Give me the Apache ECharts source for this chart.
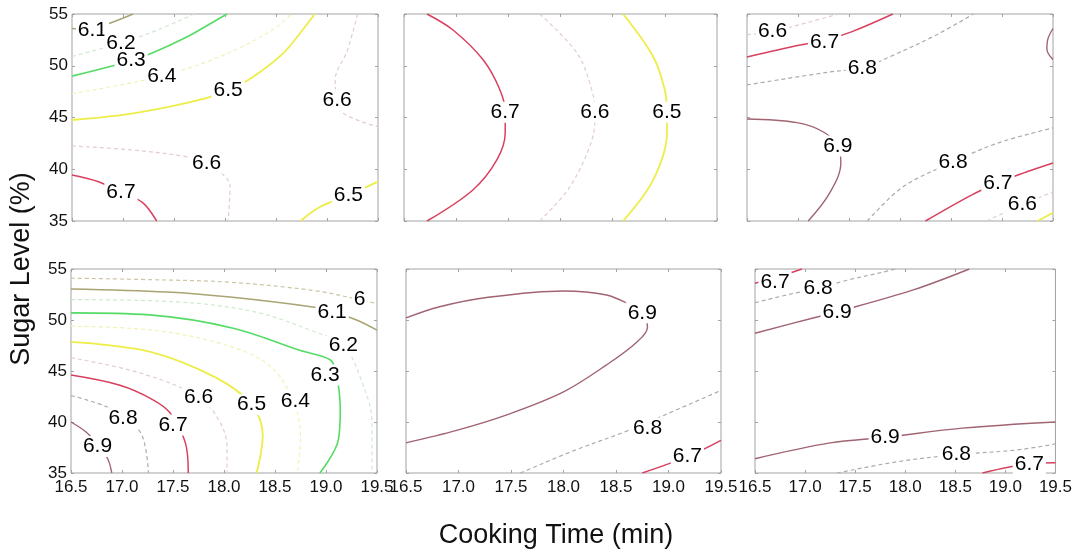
<!DOCTYPE html>
<html>
<head>
<meta charset="utf-8">
<script src="https://cdn.jsdelivr.net/npm/echarts@6/dist/echarts.min.js"></script>
<style>
  html, body { margin: 0; padding: 0; background: #fff; }
  #chart { width: 1075px; height: 550px; }
</style>
</head>
<body>
<div id="chart"></div>
<script>
// Axis ranges and tick labels shared by all six panels
const timeTicks = [16.5, 17.0, 17.5, 18.0, 18.5, 19.0, 19.5];
const sugarTicks = [35, 40, 45, 50, 55];

// ---- Panel: top-left ----  contour paths as [cooking time, sugar level]
const tl_61  = [[16.5,53.6],[16.7,53.5],[16.87,54.1],[17.1,55]];
const tl_62  = [[16.5,50.9],[16.98,52.2],[17.35,53.5],[17.7,55]];
const tl_63  = [[16.5,49.0],[16.94,50.1],[17.08,50.55],[17.28,51.2],[17.63,52.8],[17.88,54.2],[18.02,55]];
const tl_64  = [[16.5,47.3],[17.0,48.2],[17.38,49.0],[17.8,50.3],[18.2,52.0],[18.5,53.7],[18.65,55]];
const tl_65a = [[16.5,44.76],[17.1,45.4],[17.75,46.7],[18.03,47.65],[18.27,48.9],[18.57,51.2],[18.76,53.45],[18.88,55]];
const tl_65b = [[18.74,35],[18.93,36.35],[19.21,37.5],[19.5,38.8]];
const tl_66a = [[19.3,55],[19.2,51.5],[19.08,48.6],[19.1,46.7],[19.16,45.4],[19.5,44.1]];
const tl_66b = [[16.5,42.25],[17.1,41.85],[17.63,41.2],[17.82,40.6],[18.05,38.3],[18.03,35]];
const tl_67  = [[16.5,39.45],[16.76,38.8],[16.98,37.8],[17.19,36.8],[17.33,35]];
const tl_labels = [[16.7,53.45,'6.1'],[16.98,52.2,'6.2'],[17.08,50.55,'6.3'],[17.38,49.0,'6.4'],
                   [18.03,47.65,'6.5'],[19.1,46.7,'6.6'],[17.82,40.6,'6.6'],[16.98,37.8,'6.7'],[19.21,37.5,'6.5']];

// ---- Panel: top-middle ----
const tm_65 = [[18.6,55],[18.89,50.85],[19.0,47.65],[19.02,45.5],[19.02,43.5],[18.89,39.0],[18.6,35]];
const tm_66 = [[17.8,55],[18.16,51.2],[18.3,47.65],[18.33,45.5],[18.3,42.8],[18.09,38.3],[17.8,35]];
const tm_67 = [[16.72,55],[16.97,53.45],[17.26,50.55],[17.42,47.65],[17.47,45.5],[17.47,43.5],[17.39,40.9],[17.16,38.0],[16.72,35]];
const tm_labels = [[17.47,45.5,'6.7'],[18.33,45.5,'6.6'],[19.02,45.5,'6.5']];

// ---- Panel: top-right ----
const tr_65  = [[19.35,35],[19.5,35.8]];
const tr_66a = [[16.5,53.0],[16.75,53.3],[17.1,54.2],[17.4,55]];
const tr_66b = [[18.85,35],[19.2,36.6],[19.5,37.8]];
const tr_67a = [[16.5,50.85],[17.02,52.0],[17.26,52.45],[17.53,53.3],[17.93,55]];
const tr_67b = [[18.25,35],[18.7,37.5],[18.96,38.7],[19.2,39.6],[19.5,40.6]];
const tr_68a = [[16.5,48.15],[17.31,49.4],[17.63,49.8],[17.93,51.0],[18.36,53.0],[18.72,55]];
const tr_68b = [[17.68,35],[18.03,38.3],[18.52,40.7],[18.95,42.5],[19.5,44.0]];
const tr_69a = [[16.5,44.85],[16.99,44.5],[17.25,43.6],[17.39,42.25],[17.42,40.6],[17.31,37.7],[17.1,35]];
const tr_69b = [[19.5,53.6],[19.45,52.6],[19.44,51.6],[19.5,50.6]];
const tr_labels = [[16.75,53.3,'6.6'],[17.26,52.3,'6.7'],[17.63,49.8,'6.8'],[17.39,42.25,'6.9'],
                   [18.52,40.7,'6.8'],[18.96,38.7,'6.7'],[19.2,36.6,'6.6']];

// ---- Panel: bottom-left ----
const bl_60 = [[16.5,54.1],[17.3,53.95],[18.06,53.7],[18.87,52.9],[19.33,52.0],[19.5,51.6]];
const bl_61 = [[16.5,53.05],[17.44,52.75],[18.06,52.25],[18.87,51.27],[19.06,50.8],[19.3,50.0],[19.5,49.0]];
const bl_62 = [[16.5,52.0],[17.5,51.8],[18.3,50.8],[18.9,48.8],[19.17,47.55],[19.35,44.0],[19.45,40.0],[19.45,35]];
const bl_63 = [[16.5,50.7],[17.27,50.5],[18.09,49.2],[18.75,47.0],[19.04,46.1],[19.1,44.8],[19.14,41.2],[19.12,38.2],[18.94,35]];
const bl_64 = [[16.5,49.4],[17.3,49.0],[18.0,47.6],[18.45,45.5],[18.68,42.0],[18.75,38.5],[18.72,35]];
const bl_65 = [[16.5,47.85],[17.27,46.9],[17.93,44.3],[18.27,41.7],[18.38,38.7],[18.32,35]];
const bl_66 = [[16.5,46.3],[17.18,44.8],[17.75,42.45],[17.96,40.0],[18.03,37.45],[18.03,35]];
const bl_67 = [[16.5,44.6],[16.98,43.6],[17.3,42.2],[17.47,40.9],[17.62,38.0],[17.65,35]];
const bl_68 = [[16.5,42.6],[16.85,41.5],[17.05,40.3],[17.2,38.6],[17.26,35]];
const bl_69 = [[16.5,40.0],[16.65,39.0],[16.76,37.8],[16.86,36.4],[16.9,35]];
const bl_labels = [[19.33,52.0,'6'],[19.06,50.8,'6.1'],[19.17,47.55,'6.2'],[18.99,44.6,'6.3'],[18.7,42.0,'6.4'],
                   [18.27,41.7,'6.5'],[17.75,42.45,'6.6'],[17.5,39.7,'6.7'],[17.01,40.4,'6.8'],[16.76,37.6,'6.9']];

// ---- Panel: bottom-middle ----
const bm_67 = [[18.75,35],[19.18,36.6],[19.5,38.2]];
const bm_68 = [[17.59,35],[18.1,37.2],[18.6,39.1],[19.1,41.3],[19.5,43.1]];
const bm_69 = [[16.5,50.2],[16.82,51.3],[17.3,52.25],[18.0,52.85],[18.41,52.45],[18.63,51.5],[18.75,50.7],
               [18.8,49.3],[18.7,47.85],[18.41,45.6],[18.0,42.95],[17.46,40.7],[16.99,39.2],[16.5,37.95]];
const bm_labels = [[18.75,50.7,'6.9'],[18.8,39.4,'6.8'],[19.18,36.6,'6.7']];

// ---- Panel: bottom-right ----
const br_67a = [[16.5,53.6],[16.75,54.3],[16.97,55]];
const br_67b = [[18.77,35],[19.24,35.9],[19.5,36.0]];
const br_68a = [[16.5,51.7],[16.88,52.6],[17.13,53.1],[17.42,53.9],[17.78,54.7],[17.9,55]];
const br_68b = [[17.32,35],[17.92,36.1],[18.51,36.8],[19.11,37.25],[19.5,37.85]];
const br_69a = [[16.5,48.7],[17.08,50.2],[17.32,50.8],[18.08,52.95],[18.64,55]];
const br_69b = [[16.5,36.4],[17.25,37.95],[17.8,38.5],[18.57,39.4],[19.5,40.0]];
const br_labels = [[16.7,53.7,'6.7'],[17.13,53.1,'6.8'],[17.32,50.8,'6.9'],[17.8,38.5,'6.9'],
                   [18.51,36.8,'6.8'],[19.24,35.9,'6.7']];

// Contour level of each path, per panel
const panelLines = [
  [[6.1,tl_61],[6.2,tl_62],[6.3,tl_63],[6.4,tl_64],[6.5,tl_65a],[6.5,tl_65b],[6.6,tl_66a],[6.6,tl_66b],[6.7,tl_67]],
  [[6.5,tm_65],[6.6,tm_66],[6.7,tm_67]],
  [[6.5,tr_65],[6.6,tr_66a],[6.6,tr_66b],[6.7,tr_67a],[6.7,tr_67b],[6.8,tr_68a],[6.8,tr_68b],[6.9,tr_69a],[6.9,tr_69b]],
  [[6.0,bl_60],[6.1,bl_61],[6.2,bl_62],[6.3,bl_63],[6.4,bl_64],[6.5,bl_65],[6.6,bl_66],[6.7,bl_67],[6.8,bl_68],[6.9,bl_69]],
  [[6.7,bm_67],[6.8,bm_68],[6.9,bm_69]],
  [[6.7,br_67a],[6.7,br_67b],[6.8,br_68a],[6.8,br_68b],[6.9,br_69a],[6.9,br_69b]]
];
const panelLabels = [tl_labels, tm_labels, tr_labels, bl_labels, bm_labels, br_labels];

// Line colour and dash for each contour level
const levelStyle = {
  '6.0': { color: '#cdc6a6', type: [4, 3], width: 1.2 },
  '6.1': { color: '#aaa374', type: 'solid', width: 1.5 },
  '6.2': { color: '#cfe9cf', type: [4, 3], width: 1.2 },
  '6.3': { color: '#55dc66', type: 'solid', width: 1.6 },
  '6.4': { color: '#f2f2b8', type: [4, 3], width: 1.2 },
  '6.5': { color: '#eded48', type: 'solid', width: 1.8 },
  '6.6': { color: '#e3cbd3', type: [4, 3], width: 1.2 },
  '6.7': { color: '#d8405f', type: 'solid', width: 1.5 },
  '6.8': { color: '#ababab', type: [4, 3], width: 1.2 },
  '6.9': { color: '#a06472', type: 'solid', width: 1.4 }
};

// Plot rectangles of the six panels (top row, then bottom row)
const panelBoxes = [
  { left: 72,  top: 14,  width: 306, height: 207 },
  { left: 404, top: 14,  width: 313, height: 207 },
  { left: 747, top: 14,  width: 306, height: 207 },
  { left: 71,  top: 269, width: 306, height: 204 },
  { left: 406, top: 269, width: 315, height: 204 },
  { left: 755, top: 269, width: 301, height: 204 }
];

const FONT = "'Liberation Sans', Arial, Helvetica, sans-serif";
const frameColor = '#a3a3a3';
const tMin = timeTicks[0], tMax = timeTicks[timeTicks.length - 1], tStep = timeTicks[1] - timeTicks[0];
const sMin = sugarTicks[0], sMax = sugarTicks[sugarTicks.length - 1], sStep = sugarTicks[1] - sugarTicks[0];

const grid = [], xAxis = [], yAxis = [], series = [];

panelBoxes.forEach((box, i) => {
  grid.push(Object.assign({ show: true, borderColor: frameColor, borderWidth: 1, backgroundColor: '#fff' }, box));
  const bottomRow = i >= 3, leftCol = i % 3 === 0;
  const tick = { show: true, inside: true, length: 3, lineStyle: { color: frameColor } };
  // bottom / top time axes
  xAxis.push({
    type: 'value', gridIndex: i, min: tMin, max: tMax, interval: tStep, position: 'bottom',
    axisLine: { show: false }, splitLine: { show: false }, axisTick: tick,
    axisLabel: { show: bottomRow, color: '#111', fontSize: 17, fontFamily: FONT, margin: 6,
                 formatter: v => v.toFixed(1) }
  });
  xAxis.push({
    type: 'value', gridIndex: i, min: tMin, max: tMax, interval: tStep, position: 'top',
    axisLine: { show: false }, splitLine: { show: false }, axisTick: tick, axisLabel: { show: false }
  });
  // left / right sugar axes
  yAxis.push({
    type: 'value', gridIndex: i, min: sMin, max: sMax, interval: sStep, position: 'left',
    axisLine: { show: false }, splitLine: { show: false }, axisTick: tick,
    axisLabel: { show: leftCol, color: '#111', fontSize: 17, fontFamily: FONT, margin: 4 }
  });
  yAxis.push({
    type: 'value', gridIndex: i, min: sMin, max: sMax, interval: sStep, position: 'right',
    axisLine: { show: false }, splitLine: { show: false }, axisTick: tick, axisLabel: { show: false }
  });

  // contour paths
  panelLines[i].forEach(([level, pts]) => {
    const st = levelStyle[level.toFixed(1)];
    series.push({
      type: 'line', xAxisIndex: 2 * i, yAxisIndex: 2 * i, data: pts,
      smooth: 0.35, showSymbol: false, symbol: 'none', silent: true, clip: true,
      lineStyle: { color: st.color, width: st.width, type: st.type }, z: 2
    });
  });

  // contour value labels, cut into the lines like clabel
  series.push({
    type: 'scatter', xAxisIndex: 2 * i, yAxisIndex: 2 * i, data: panelLabels[i],
    symbolSize: 1, itemStyle: { color: '#fff', opacity: 1 }, silent: true, z: 5,
    label: {
      show: true, position: 'inside', formatter: p => p.value[2],
      fontSize: 21, fontFamily: FONT, color: '#000', opacity: 1,
      textBorderWidth: 0, backgroundColor: '#fff', padding: [0, 2, 0, 2]
    }
  });
});

const chart = echarts.init(document.getElementById('chart'), null, { renderer: 'canvas' });
chart.setOption({
  animation: false,
  backgroundColor: '#fff',
  grid, xAxis, yAxis, series,
  graphic: [
    { type: 'text', x: 556, y: 536, style: { text: 'Cooking Time (min)', font: '27px ' + FONT,
      fill: '#111', textAlign: 'center', textVerticalAlign: 'middle' } },
    { type: 'text', x: 22, y: 269, rotation: Math.PI / 2, style: { text: 'Sugar Level (%)', font: '27px ' + FONT,
      fill: '#111', textAlign: 'center', textVerticalAlign: 'middle' } }
  ]
});
</script>
</body>
</html>
